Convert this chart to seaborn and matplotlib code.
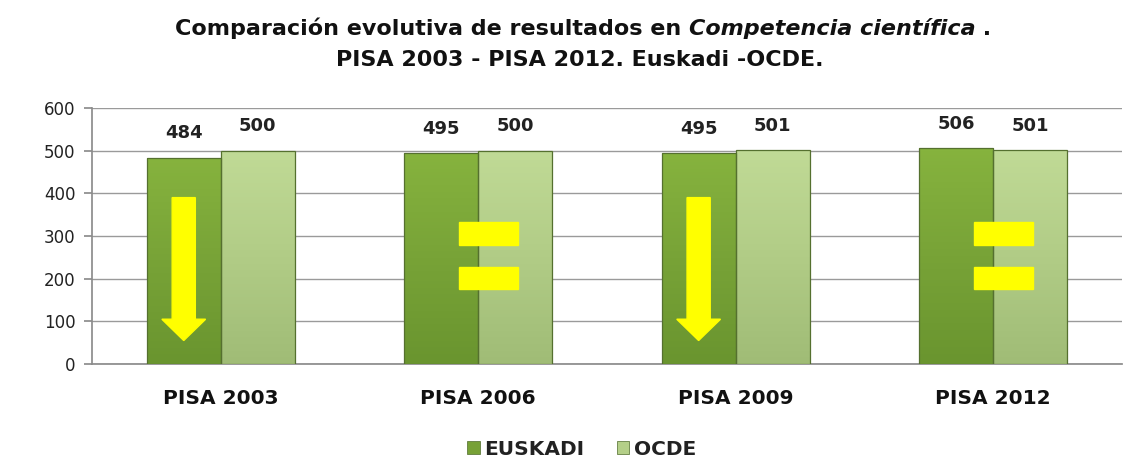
import matplotlib
matplotlib.use("Agg")
import matplotlib.pyplot as plt
import matplotlib.patches as mpatches
import numpy as np
import pandas as pd
import seaborn as sns
from matplotlib.colors import LinearSegmentedColormap

# Datos
years = ["PISA 2003", "PISA 2006", "PISA 2009", "PISA 2012"]
euskadi = [484, 495, 495, 506]
ocde = [500, 500, 501, 501]
series = ["EUSKADI", "OCDE"]
# signo de tendencia por edición: "down" = flecha, "eq" = igual
trend = ["down", "eq", "down", "eq"]

colors = {"EUSKADI": "#77a136", "OCDE": "#b4cf88"}
# degradado (arriba -> abajo) para imitar el relieve de las barras
grad = {"EUSKADI": ["#86b33e", "#78a337", "#6a952f"],
        "OCDE": ["#c0da96", "#b1cc86", "#a0bc76"]}


def shade_bars(ax, bars, cols):
    cmap = LinearSegmentedColormap.from_list("g", cols)
    g = np.linspace(0, 1, 64).reshape(-1, 1)
    for b in bars:
        x0, w, h = b.get_x(), b.get_width(), b.get_height()
        im = ax.imshow(g, cmap=cmap, aspect="auto", extent=(x0, x0 + w, 0, h),
                       origin="upper", zorder=2.9)
        im.set_clip_path(b)
        b.set_facecolor("none")


def main():
    df = pd.DataFrame({
        "year": years * 2,
        "serie": ["EUSKADI"] * len(years) + ["OCDE"] * len(years),
        "score": euskadi + ocde,
    })

    sns.set_theme(style="white")
    plt.rcParams["font.family"] = ["DejaVu Sans"]

    fig = plt.figure(figsize=(11.32, 4.61), dpi=100)
    ax = fig.add_axes([0.0813, 0.2104, 0.9097, 0.5553])

    sns.barplot(data=df, x="year", y="score", hue="serie", order=years,
                hue_order=series, palette=colors, width=0.575, saturation=1,
                edgecolor="#55702f", linewidth=0.9, legend=False, ax=ax, zorder=3)

    ax.set_ylim(0, 600)
    ax.set_xlim(-0.5, len(years) - 0.5)
    ax.set_yticks(range(0, 601, 100))
    ax.yaxis.grid(True, color="#9a9a9a", linewidth=1.0, zorder=0)
    ax.xaxis.grid(False)
    ax.set_xlabel("")
    ax.set_ylabel("")
    for s in ["top", "right"]:
        ax.spines[s].set_visible(False)
    ax.spines["left"].set_color("#8c8c8c")
    ax.spines["bottom"].set_color("#8c8c8c")
    ax.tick_params(axis="y", left=True, length=6, color="#8c8c8c",
                   labelsize=12, labelcolor="#222222", pad=6)
    ax.tick_params(axis="x", bottom=False, pad=12)
    for lab in ax.get_xticklabels():
        lab.set_fontweight("bold")
        lab.set_fontsize(14.5)
        lab.set_color("#111111")

    eus_bars = ax.containers[0].patches
    ocd_bars = ax.containers[1].patches
    shade_bars(ax, eus_bars, grad["EUSKADI"])
    shade_bars(ax, ocd_bars, grad["OCDE"])
    ax.set_xlim(-0.5, len(years) - 0.5)
    ax.set_ylim(0, 600)

    # etiquetas de valor
    for cont in ax.containers:
        ax.bar_label(cont, fmt="%d", padding=11, fontsize=13,
                     fontweight="bold", color="#222222")

    # flechas y signos igual en amarillo
    for i, t in enumerate(trend):
        b = eus_bars[i]
        if t == "down":
            cx = b.get_x() + b.get_width() / 2
            ax.add_patch(mpatches.FancyArrow(cx, 390, 0, -335, width=0.09,
                                             head_width=0.17, head_length=50,
                                             length_includes_head=True,
                                             color="#ffff00", zorder=5))
        else:
            cx = b.get_x() + b.get_width() + 0.04
            for y0 in (280, 175):
                ax.add_patch(mpatches.Rectangle((cx - 0.115, y0), 0.23, 52,
                                                color="#ffff00", zorder=5))

    # titulo en tres trozos (parte en cursiva)
    r = fig.canvas.get_renderer()
    pieces = [("Comparación evolutiva de resultados en ", "normal"),
              ("Competencia científica", "italic"),
              (" .", "normal")]
    texts = [fig.text(0, 0.938, p, fontsize=16, fontweight="bold", style=st,
                      color="#111111", va="center") for p, st in pieces]
    widths = [t.get_window_extent(r).width for t in texts]
    x = 0.515 * fig.bbox.width - sum(widths) / 2
    for t, w in zip(texts, widths):
        t.set_x(x / fig.bbox.width)
        x += w
    fig.text(0.512, 0.870, "PISA 2003 - PISA 2012. Euskadi -OCDE.", fontsize=16,
             fontweight="bold", color="#111111", ha="center", va="center")

    handles = [mpatches.Patch(facecolor=colors[s], edgecolor="#4f6b2a", linewidth=0.5)
               for s in series]
    leg = fig.legend(handles, series, loc="center", bbox_to_anchor=(0.514, 0.025),
                     ncol=2, frameon=False, handlelength=0.6, handleheight=0.6,
                     handletextpad=0.25, columnspacing=1.6,
                     prop={"weight": "bold", "size": 14.5})
    for t in leg.get_texts():
        t.set_color("#222222")

    fig.savefig("out.png", dpi=100)
    plt.close(fig)


if __name__ == "__main__":
    main()
